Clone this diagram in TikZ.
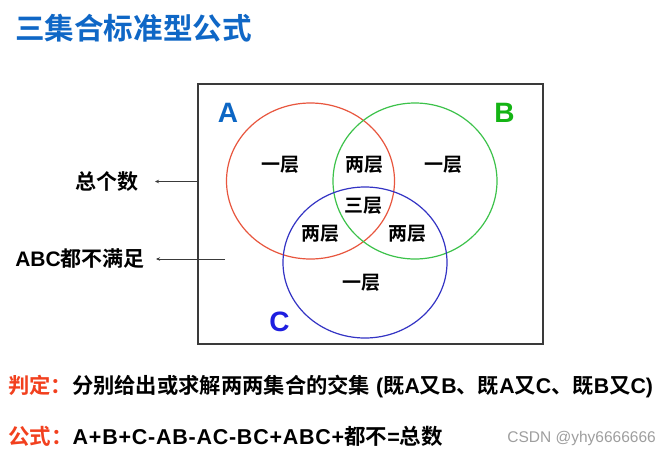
\documentclass[tikz,border=0pt]{standalone}
\usepackage{fontspec}
\setmainfont{Liberation Sans}
\newfontfamily\cjk{Noto Sans CJK SC}[BoldFont={Noto Sans CJK SC Bold}]
\newfontfamily\latwide{Liberation Sans}[LetterSpace=3.5]
\newcommand\latn[1]{{\rmfamily\bfseries #1}}
\newcommand\latw[1]{{\latwide\bfseries #1}}
\usetikzlibrary{arrows.meta}
\definecolor{titleblue}{HTML}{0F67C6}
\definecolor{ablue}{HTML}{0C66C4}
\definecolor{bgreen}{HTML}{14B414}
\definecolor{cblue}{HTML}{1E1EE0}
\definecolor{cred}{HTML}{E8563E}
\definecolor{cgreen}{HTML}{3CC24A}
\definecolor{ccblue}{HTML}{3434C4}
\definecolor{lred}{HTML}{F2401E}
\definecolor{frame}{HTML}{3A3A3A}
\tikzset{
  cn/.style={font=\cjk\bfseries\fontsize{19}{19}\selectfont, inner sep=0pt},
  side/.style={font=\cjk\bfseries\fontsize{21}{21}\selectfont, inner sep=0pt, anchor=east},
  big/.style={font=\bfseries\fontsize{28}{28}\selectfont, inner sep=0pt},
  line/.style={font=\cjk\bfseries\fontsize{21.5}{22}\selectfont, inner sep=0pt, anchor=west},
  ptr/.style={draw=frame, line width=0.8pt, -{Stealth[length=4pt,width=3.5pt]}},
  ring/.style={line width=1.2pt}
}
\begin{document}
\begin{tikzpicture}[x=1pt,y=-1pt]
\useasboundingbox (0,0) rectangle (670,456);
\fill[white] (0,0) rectangle (670,456);
% title
\node[font=\cjk\bfseries\fontsize{29.6}{30}\selectfont, text=titleblue, inner sep=0pt, anchor=west] (title) at (15,28) {三集合标准型公式};
% frame
\node[draw=frame, line width=1.3pt, minimum width=345pt, minimum height=260pt, inner sep=0pt] (box) at (370.5,214) {};
% circles
\draw[ring, draw=cred] (310.5,181) ellipse [x radius=84pt, y radius=78pt];
\draw[ring, draw=cgreen] (415,181) ellipse [x radius=82pt, y radius=78pt];
\draw[ring, draw=ccblue] (365,262.5) ellipse [x radius=82pt, y radius=75.5pt];
% set labels
\node[big, text=ablue] (la) at (228,113) {A};
\node[big, text=bgreen] (lb) at (504.5,113) {B};
\node[big, text=cblue] (lc) at (279.5,322) {C};
% region labels
\node[cn] (r1) at (280,165) {一层};
\node[cn] (r2) at (364.5,165) {两层};
\node[cn] (r3) at (443.5,165) {一层};
\node[cn] (r4) at (363,206) {三层};
\node[cn] (r5) at (320,234) {两层};
\node[cn] (r6) at (407.5,234) {两层};
\node[cn] (r7) at (361.5,283) {一层};
% side labels
\node[side] (total) at (139,182) {总个数};
\node[side] (none) at (145,259) {\latn{ABC}都不满足};
\coordinate (p1) at (box.west |- 0,181.5);
\coordinate (p2) at (225,259);
\draw[ptr, shorten >=16pt] (p1) -- (total.east |- p1);
\draw[ptr, shorten >=11pt] (p2) -- (none.east |- p2);
% bottom lines
\node[line, font=\cjk\bfseries\fontsize{21.3}{22}\selectfont] (judge) at (8,387) {\textcolor{lred}{判定：}分别给出或求解两两集合的交集\latn{ (}既\latn{A}又\latn{B}、既\latn{A}又\latn{C}、既\latn{B}又\latn{C)}};
\node[line] (formula) at (8,436) {\textcolor{lred}{公式：}\latw{A+B+C-AB-AC-BC+ABC+}都不\latw{=}总数};
\node[font=\fontsize{15.5}{16}\selectfont, text=black!38, inner sep=0pt, anchor=east] (wm) at (656,438) {CSDN @yhy6666666};
\end{tikzpicture}
\end{document}
